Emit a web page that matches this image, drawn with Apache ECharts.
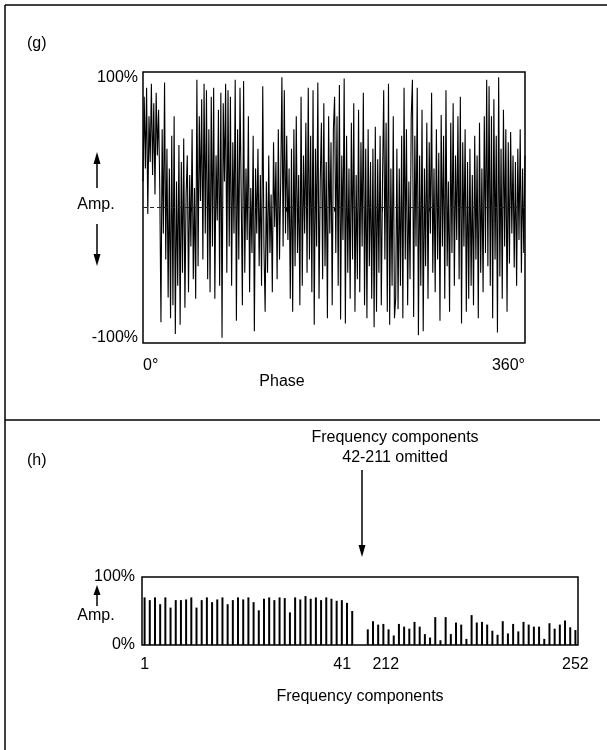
<!DOCTYPE html>
<html><head><meta charset="utf-8">
<script src="https://cdn.jsdelivr.net/npm/echarts@6/dist/echarts.min.js"></script>
<style>html,body{margin:0;padding:0;background:#fff}#c{width:607px;height:750px}</style>
</head><body><div id="c"></div>
<script>
// ---- Panel (g): composite waveform amplitude (%) sampled across 0..360 degrees ----
const phaseAmp = [
  20, 85, 30, 92, -5, 70, 35, 95, 25, 80, 10, 88, 40, 75, 15,
  -88, 60, -20, 96, -40, 45, -69, 30, -85, 55, -75, 70, -97, 20, -60, 48, -90,
  35, -50, 53, -77, 10, 40, -65, 25, -30, 60, -55, 15, -70, 98, -45, 70, 5,
  83, -40, 95, -20, 90, -55, 60, -65, 85, -30, 92, -70, 40, -10, 75, -60, 88, -100, 80, 20, 95, -50,
  90, -30, 85, -60, 50, -20, 98, -87, 60, -40, 92, 10, -75, 97, -50, 30, -25, 70, -65, 15, -35, 55,
  -95, 30, -20, 45, -45, 25, -60, 93, -30, -80, 20, -50, 40, -35, 10, -65, 50, -15, 35, -55, 60, -40, 20,
  100, -30, 90, -20, 55, -25, 30, -70, 45, -80, 60, -45, 70, -35, 25, -75, 85, -60, 40, -20, 65, -50,
  92, -40, 55, -65, 90, -90, 45, -30, 96, -70, 20, 65, -55, 80, -45, 35, -85, 70, -20, 50, -75, 60,
  85, -35, 70, -60, 94, -86, 40, -25, 99, -89, 55, -50, 30, -70, 65, -40, 80, -80, 25, -55, 75, -65, 50, -30, 88, -75, 45, -85, 60, -45, 35,
  -70, 45, -92, 62, -80, 37, -50, 55, -75, 20, 90, -40, 65, -80, 95, -90, 30, -60, 70, -85,
  -70, 45, -78, 30, -60, 55, -85, 92, -40, 60, -75, 20, -55, 70,
  98, -84, 55, -30, 92, -98, 40, -60, 75, -95, 30, -45, 65, -70, 50, -20,
  88, -50, 30, -65, 60, -40, 42, -87, 71, -30, 55, -70, 90, -45, 20, -80, 65, -35, 80, -60, 40, -25, 70, -55, 85,
  -89, 50, -30, 60, -80, 35, -70, 45, -60, 25, -75, 55, -40, 40, -85, 65, -50, 30, -65, 70, -35, 98, -45,
  93, -60, 70, -85, 83, -40, 55, -96, 100, -53, 45, -70, 75, -30, 60, -80, 50, -43, 58, -20, 40, -46, 35, -60, 45, -25, 60, -50, 30, -35, 40
];
const phaseTicks = [45, 90, 135, 180, 225, 270, 315];
const phaseLabelValues = [0, 360];
const ampLabelValues = [-100, 100];

// ---- Panel (h): amplitude (%) of frequency components 1-41 and 212-252 ----
const lowAmp = [
  70, 66, 70, 60, 70, 55, 66, 66, 67, 70, 55, 66, 70, 63, 67, 70, 60, 66, 70, 67, 70, 63, 51,
  68, 70, 66, 70, 69, 48, 70, 67, 72, 68, 70, 66, 70, 68, 65, 66, 62, 50
];
const highAmp = [
  23, 35, 30, 31, 23, 14, 31, 27, 24, 34, 27, 16, 11, 41, 7, 41, 16, 33, 30, 9, 44,
  33, 34, 30, 21, 15, 35, 17, 31, 20, 34, 30, 27, 27, 9, 32, 24, 30, 36, 26, 22
];
const lowStart = 1, highStart = 212, gapSlots = 2;
const freqTickLabels = ['1', '212', '252'];
const freqGapLeftLabel = '41';
const freqAmpLabelValues = [0, 100];

const freqCats = [];
const freqVals = [];
lowAmp.forEach((v, i) => { freqCats.push(String(lowStart + i)); freqVals.push(v); });
for (let g = 0; g < gapSlots; g++) { freqCats.push('gap' + g); freqVals.push(null); }
highAmp.forEach((v, i) => { freqCats.push(String(highStart + i)); freqVals.push(v); });
let idx41 = freqCats.indexOf(freqGapLeftLabel);
if (idx41 < 0) idx41 = lowAmp.length - 1;
const nCats = freqCats.length;

const phaseData = phaseAmp.map((v, i) => [i * 360 / (phaseAmp.length - 1), v]);

const FONT = "'Liberation Sans', Arial, sans-serif";
const txt = { color: '#000', fontFamily: FONT, fontSize: 16 };
const gridG = { left: 143, top: 72, width: 382, height: 271 };
const gridH = { left: 142, top: 577, width: 436, height: 68 };

function arrow(x, y1, y2, head) {
  const dir = y2 > y1 ? 1 : -1;
  return [
    { type: 'line', shape: { x1: x, y1: y1, x2: x, y2: y2 - dir * head }, style: { stroke: '#000', lineWidth: 1.5 } },
    { type: 'polygon', shape: { points: [[x, y2], [x - 3.5, y2 - dir * head], [x + 3.5, y2 - dir * head]] }, style: { fill: '#000' } }
  ];
}

const graphics = [
  { type: 'line', shape: { x1: 5, y1: 5, x2: 607, y2: 5 }, style: { stroke: '#000', lineWidth: 1.5 } },
  { type: 'line', shape: { x1: 5, y1: 5, x2: 5, y2: 750 }, style: { stroke: '#000', lineWidth: 1.5 } },
  { type: 'line', shape: { x1: 5, y1: 420, x2: 600, y2: 420 }, style: { stroke: '#000', lineWidth: 1.5 } },
  { type: 'text', left: 27, top: 36, style: { text: '(g)', fill: '#000', font: '16px ' + FONT } },
  { type: 'text', left: 27, top: 453, style: { text: '(h)', fill: '#000', font: '16px ' + FONT } },
  { type: 'text', x: 96, y: 205, style: { text: 'Amp.', fill: '#000', font: '16px ' + FONT, align: 'center', verticalAlign: 'middle' } },
  ...arrow(97, 188, 152, 12),
  ...arrow(97, 224, 266, 12),
  { type: 'text', x: 96, y: 616, style: { text: 'Amp.', fill: '#000', font: '16px ' + FONT, align: 'center', verticalAlign: 'middle' } },
  ...arrow(97, 606, 585, 10),
  { type: 'text', x: 282, y: 382, style: { text: 'Phase', fill: '#000', font: '16px ' + FONT, align: 'center', verticalAlign: 'middle' } },
  { type: 'text', x: 395, y: 438, style: { text: 'Frequency components', fill: '#000', font: '16px ' + FONT, align: 'center', verticalAlign: 'middle' } },
  { type: 'text', x: 395, y: 458, style: { text: '42-211 omitted', fill: '#000', font: '16px ' + FONT, align: 'center', verticalAlign: 'middle' } },
  ...arrow(362, 470, 557, 12)
];

const option = {
  animation: false,
  backgroundColor: '#fff',
  textStyle: { fontFamily: FONT },
  grid: [
    { ...gridG, show: true, borderColor: '#000', borderWidth: 1.5, backgroundColor: 'transparent' },
    { ...gridH, show: true, borderColor: '#000', borderWidth: 1.5, backgroundColor: 'transparent' }
  ],
  xAxis: [
    {
      gridIndex: 0, type: 'value', min: 0, max: 360,
      axisLine: { show: false }, splitLine: { show: false },
      axisTick: { show: true, customValues: phaseTicks, length: 4, lineStyle: { color: '#000', width: 1 } },
      axisLabel: { customValues: phaseLabelValues, formatter: v => v + '°', margin: 15, alignMinLabel: 'left', alignMaxLabel: 'right', ...txt }
    },
    {
      gridIndex: 1, type: 'category', data: freqCats.slice(), boundaryGap: true, position: 'bottom',
      axisLine: { show: false }, axisTick: { show: false }, splitLine: { show: false },
      axisLabel: {
        interval: (i, val) => freqTickLabels.includes(val), hideOverlap: false, margin: 12, ...txt,
        formatter: v => v === '212' ? '{b|212}' : v,
        rich: { b: { ...txt, padding: [0, 0, 0, 36] } }
      },
      name: 'Frequency components', nameLocation: 'middle', nameGap: 44,
      nameTextStyle: { ...txt }
    }
  ],
  yAxis: [
    {
      gridIndex: 0, type: 'value', min: -104, max: 104,
      axisLine: { show: false }, axisTick: { show: false }, splitLine: { show: false },
      axisLabel: { customValues: ampLabelValues, formatter: v => v + '%', margin: 5, ...txt }
    },
    {
      gridIndex: 1, type: 'value', min: 0, max: 100,
      axisLine: { show: false }, axisTick: { show: false }, splitLine: { show: false },
      axisLabel: { customValues: freqAmpLabelValues, formatter: v => v + '%', margin: 7, ...txt }
    }
  ],
  series: [
    {
      type: 'line', xAxisIndex: 0, yAxisIndex: 0, data: phaseData,
      showSymbol: false, symbol: 'none', lineStyle: { color: '#000', width: 1.1 },
      markLine: {
        silent: true, symbol: 'none', label: { show: false },
        lineStyle: { color: '#222', width: 1, type: [4, 3] },
        data: [{ yAxis: 0 }]
      }
    },
    {
      type: 'bar', xAxisIndex: 1, yAxisIndex: 1, data: freqVals.slice(),
      barWidth: 2, itemStyle: { color: '#000' }
    }
  ],
  graphic: graphics.slice()
};

const chart = echarts.init(document.getElementById('c'), null, { renderer: 'canvas' });
chart.setOption(option);
// place the "41" tick label at its category slot on the frequency axis, nudged left like the original
const slotX = gridH.left + (idx41 + 0.5) * gridH.width / nCats;
const baseY = gridH.top + gridH.height;
let x41 = slotX, y41 = baseY;
try {
  const p = chart.convertToPixel({ seriesIndex: 1 }, [idx41, 0]);
  if (p && isFinite(p[0]) && Math.abs(p[0] - slotX) < 6) x41 = p[0];
  if (p && isFinite(p[1]) && Math.abs(p[1] - baseY) < 3) y41 = p[1];
} catch (e) {}
const allGraphics = graphics.concat([{ type: 'text', x: x41 - 10, y: y41 + 12, style: { text: freqGapLeftLabel, fill: '#000', font: '16px ' + FONT, align: 'center', verticalAlign: 'top' } }]);
chart.setOption({ graphic: allGraphics });
</script>
</body></html>
